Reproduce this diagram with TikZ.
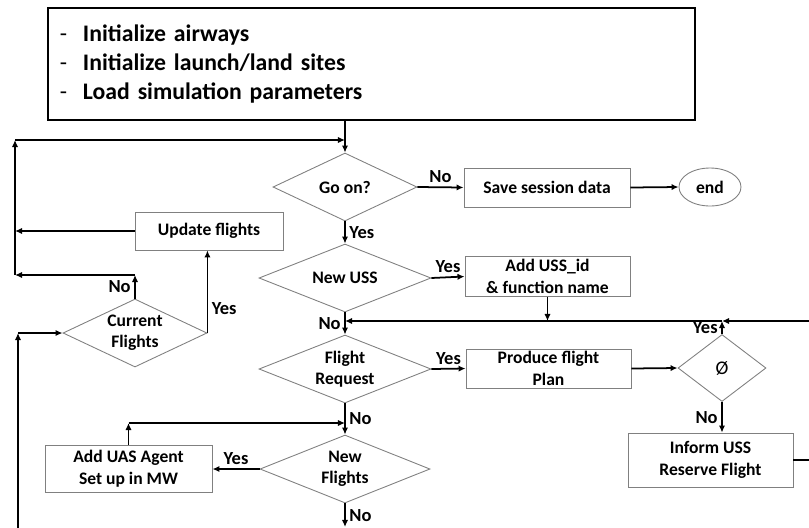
\documentclass[tikz,border=0pt]{standalone}
\usepackage{fontspec}
\setmainfont{Carlito}
\usetikzlibrary{shapes.geometric,arrows.meta}
\tikzset{
  proc/.style={shape=rectangle,draw=gray,line width=0.5pt,fill=white,align=center,inner sep=0pt,font=\bfseries\fontsize{10}{12.5}\selectfont},
  dec/.style={shape=diamond,draw=gray,line width=0.5pt,fill=white,align=center,inner sep=0pt,shape aspect=#1,font=\bfseries\fontsize{10}{12}\selectfont},
  dec/.default=2.4,
  term/.style={shape=ellipse,draw=gray,line width=0.5pt,fill=white,inner sep=0pt,font=\bfseries\fontsize{10}{12}\selectfont},
  lbl/.style={inner sep=2pt,font=\bfseries\fontsize{10.5}{12}\selectfont},
  flow/.style={line width=1pt,-{Latex[length=4pt,width=3.6pt]}}
}

\begin{document}
\begin{tikzpicture}[x=0.2mm,y=-0.2mm]
\useasboundingbox (0,0) rectangle (809,527);
% set up
\node[draw,line width=1pt,minimum width=12.94cm,minimum height=2.24cm,inner xsep=0.24cm,text width=12.46cm,align=left,font=\bfseries\fontsize{13.5}{16.5}\selectfont] (init) at (371.5,64) {\makebox[0.46cm][l]{\mdseries -}Initialize airways\\\makebox[0.46cm][l]{\mdseries -}Initialize launch/land sites\\\makebox[0.46cm][l]{\mdseries -}Load simulation parameters};
% decisions
\node[dec=3,minimum width=2.88cm,minimum height=1.36cm] (goon) at (345,187) {Go on?};
\node[dec=3,minimum width=3.44cm,minimum height=1.36cm] (newuss) at (345,278) {New USS};
\node[dec=2.5,minimum width=3.44cm,minimum height=1.36cm] (freq) at (345,369) {Flight\\Request};
\node[dec=2.5,minimum width=3.4cm,minimum height=1.36cm] (newfl) at (345,469) {New\\Flights};
\node[dec=2.3,minimum width=2.88cm,minimum height=1.36cm] (curfl) at (135,333) {Current\\Flights};
\node[dec=1,minimum width=1.76cm,minimum height=1.34cm,font=\fontsize{11}{12}\selectfont] (empty) at (722,368) {Ø};
% boxes
\node[proc,minimum width=3.32cm,minimum height=0.78cm] (save) at (547,187.5) {Save session data};
\node[term,minimum width=1.24cm,minimum height=0.76cm] (end) at (710,187) {end};
\node[proc,minimum width=3.3cm,minimum height=0.8cm] (adduss) at (547.5,276.5) {Add USS\_id\\\& function name};
\node[proc,minimum width=2.96cm,minimum height=0.76cm] (upd) at (209,231) {Update flights};
\node[proc,minimum width=3.3cm,minimum height=0.78cm] (plan) at (548.5,368.5) {Produce flight\\Plan};
\node[proc,minimum width=3.3cm,minimum height=1.08cm] (inform) at (710.5,460) {Inform USS\\Reserve Flight};
\node[proc,minimum width=3.34cm,minimum height=0.94cm] (adduas) at (128.5,469) {Add UAS Agent\\Set up in MW};
%%%%%%%%%%%%%%%
\coordinate (lt) at (15,140);
\coordinate (lb) at (15,275);
\coordinate (bl) at (18,545);
\coordinate (jn) at (345,321);
\coordinate (jr) at (825,321);
\coordinate (nfj) at (345,423);
\coordinate (out) at (345,527);
%%%%%%%%%%%%%%%
\draw[flow] (init.south -| goon) -- (goon.north);
\draw[flow] (lt) -- (lt -| goon);
\draw[flow] (lb) -- (lt);
\draw[flow] (upd.west) -- (upd.west -| lt);
\draw[flow] (curfl.north) -- node[lbl,left] {No} (curfl.north |- lb);
\draw[flow] (curfl.north |- lb) -- (lb);
\draw[flow] (curfl.east) -- node[lbl,right,pos=0.3] {Yes} (curfl.east |- upd.south);
\draw[flow] (bl) -- (bl |- curfl);
\draw[flow] (bl |- curfl) -- (curfl.west);
\draw[flow] (goon.east) -- node[lbl,above] {No} (save.west);
\draw[flow] (save.east) -- (end.west);
\draw[flow] (goon.south) -- node[lbl,right] {Yes} (newuss.north);
\draw[flow] (newuss.east) -- node[lbl,above] {Yes} (adduss.west);
\draw[flow] (adduss.south) -- (adduss.south |- jn);
\draw[flow] (newuss.south) -- node[lbl,left] {No} (freq.north);
\draw[flow] (freq.east) -- node[lbl,above] {Yes} (plan.west);
\draw[flow] (plan.east) -- (empty.west);
\draw[flow] (empty.north) -- node[lbl,left] {Yes} (empty.north |- jn);
\draw[flow] (empty.south) -- node[lbl,left] {No} (empty.south |- inform.north);
\draw[line width=1pt] (inform.east) -| (jr);
\draw[flow] (jr) -- (empty.north |- jn);
\draw[flow] (empty.north |- jn) -- (jn);
\draw[flow] (freq.south) -- node[lbl,right] {No} (newfl.north);
\draw[flow] (adduas.north) -- (adduas.north |- nfj);
\draw[flow] (adduas.north |- nfj) -- (nfj);
\draw[flow] (newfl.west) -- node[lbl,above] {Yes} (adduas.east);
\draw[flow] (newfl.south) -- node[lbl,right] {No} (out);
\end{tikzpicture}
\end{document}
